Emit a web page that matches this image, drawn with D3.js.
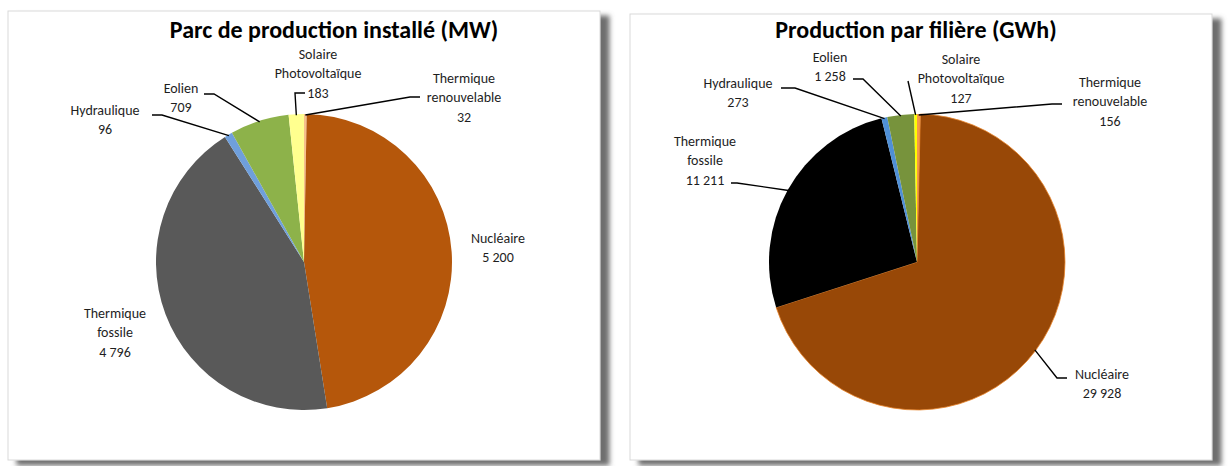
<!DOCTYPE html>
<html>
<head>
<meta charset="utf-8">
<script src="https://cdn.jsdelivr.net/npm/d3@7"></script>
<style>
	body { margin: 0; background: #fff; }
	text { font-family: Carlito, Calibri, Lato, sans-serif; }
</style>
</head>
<body>
<svg id="chart" width="1229" height="466"></svg>
<script>
// data
const categories = ["Thermique renouvelable", "Nucléaire", "Thermique fossile", "Hydraulique", "Eolien", "Solaire Photovoltaïque"];
const labelLines = [["Thermique", "renouvelable"], ["Nucléaire"], ["Thermique", "fossile"], ["Hydraulique"], ["Eolien"], ["Solaire", "Photovoltaïque"]];
const capaciteMW = [32, 5200, 4796, 96, 709, 183];
const productionGWh = [156, 29928, 11211, 273, 1258, 127];

const colorsMW = ["#f6c08c", "#b5570b", "#595959", "#6f9fdc", "#8db24a", "#ffff8f"];
const colorsGWh = ["#f59a4a", "#984807", "#000000", "#4f8fd6", "#77933c", "#ffff00"];

const fr = d3.formatLocale({decimal: ",", thousands: " ", grouping: [3], currency: ["", " €"]});
const fmt = fr.format(",d");

const svg = d3.select("#chart");

const defs = svg.append("defs");
defs.append("filter")
	.attr("id", "shadow")
	.attr("x", "-5%").attr("y", "-5%")
	.attr("width", "115%").attr("height", "115%")
	.append("feDropShadow")
	.attr("dx", 9).attr("dy", 5)
	.attr("stdDeviation", 2.5)
	.attr("flood-color", "#6e6e6e")
	.attr("flood-opacity", 1);

// label placement (Excel "best fit" copied by eye), leader = [startX, startY, elbowX]
const layoutMW = {
	box: [8, 11, 592, 449], cx: 304, cy: 262, r: 148, titleX: 334,
	title: "Parc de production installé (MW)",
	labels: [
		{x: 464, y: 78, leader: [420, 97, 410]},
		{x: 498, y: 238},
		{x: 115, y: 313},
		{x: 105, y: 110, leader: [152, 115, 162]},
		{x: 181, y: 88, leader: [204, 94, 214]},
		{x: 318, y: 54, leader: [305, 93, 295]}
	]
};

const layoutGWh = {
	box: [630, 14, 582, 446], cx: 917, cy: 262, r: 148, titleX: 916,
	title: "Production par filière (GWh)",
	labels: [
		{x: 1110, y: 82, leader: [1062, 104, 1052]},
		{x: 1102, y: 374, leader: [1067, 378, 1057]},
		{x: 705, y: 141, leader: [731, 183, 737]},
		{x: 738, y: 83, leader: [781, 88, 795]},
		{x: 830, y: 57, leader: [853, 79, 863]},
		{x: 961, y: 59, leader: [908, 81, 908]}
	]
};

function drawPie(values, colors, layout, stroked) {
	const g = svg.append("g");
	const [bx, by, bw, bh] = layout.box;

	g.append("rect")
		.attr("x", bx).attr("y", by)
		.attr("width", bw).attr("height", bh)
		.attr("fill", "#fff")
		.attr("stroke", "#d9d9d9")
		.attr("stroke-width", 1)
		.attr("filter", "url(#shadow)");

	g.append("text")
		.attr("x", layout.titleX).attr("y", 38)
		.attr("text-anchor", "middle")
		.attr("font-size", 24)
		.attr("font-weight", "bold")
		.attr("fill", "#000")
		.text(layout.title);

	const pie = d3.pie().sort(null).value(d => d);
	const arcs = pie(values);
	const arc = d3.arc().innerRadius(0).outerRadius(layout.r);

	const slices = g.append("g")
		.attr("transform", "translate(" + layout.cx + "," + layout.cy + ")");

	slices.selectAll("path")
		.data(arcs)
		.enter().append("path")
		.attr("d", arc)
		.attr("fill", (d, i) => colors[i])
		.attr("stroke", (d, i) => stroked && i == 1 ? "#e8852c" : "none")
		.attr("stroke-width", 0.8);

	const lineH = 19.5;

	arcs.forEach((a, i) => {
		const lab = layout.labels[i];
		const lines = labelLines[i].concat([fmt(values[i])]);

		if (lab.leader) {
			const mid = (a.startAngle + a.endAngle) / 2;
			const px = layout.cx + (layout.r - 1) * Math.sin(mid);
			const py = layout.cy - (layout.r - 1) * Math.cos(mid);
			const [sx, sy, ex] = lab.leader;
			g.append("path")
				.attr("d", d3.line()([[sx, sy], [ex, sy], [px, py]]))
				.attr("fill", "none")
				.attr("stroke", "#000")
				.attr("stroke-width", 1.4);
		}

		const t = g.append("text")
			.attr("text-anchor", "middle")
			.attr("font-size", 14)
			.attr("fill", "#1e1e1e");
		lines.forEach((l, j) => {
			t.append("tspan")
				.attr("x", lab.x)
				.attr("y", lab.y + j * lineH)
				.attr("dy", "0.35em")
				.text(l);
		});
	});
}

drawPie(capaciteMW, colorsMW, layoutMW, false);
drawPie(productionGWh, colorsGWh, layoutGWh, true);
</script>
</body>
</html>
